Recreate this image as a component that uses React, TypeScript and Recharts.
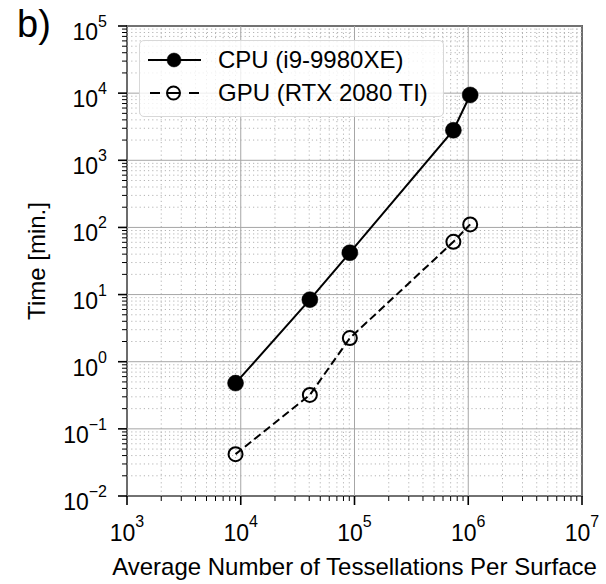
import React from 'react';
import {
  ComposedChart,
  Line,
  XAxis,
  YAxis,
  ReferenceLine,
  ReferenceArea,
  Legend,
} from 'recharts';

// ---------- data ----------
const tessellations = [9000, 40500, 91000, 740000, 1040000];
const cpuMinutes = [0.48, 8.4, 42, 2800, 9400];
const gpuMinutes = [0.042, 0.32, 2.25, 61, 111];
const seriesNames = ['CPU (i9-9980XE)', 'GPU (RTX 2080 TI)'];
const xDecades = [3, 4, 5, 6, 7];
const yDecades = [-2, -1, 0, 1, 2, 3, 4, 5];
const minorMultipliers = [2, 3, 4, 5, 6, 7, 8, 9];
const xLabel = 'Average Number of Tessellations Per Surface';
const yLabel = 'Time [min.]';
const panelLabel = 'b)';

const FONT = '"Liberation Sans", Arial, Helvetica, sans-serif';

const clean = (v: number) => Number(v.toPrecision(8));
const majors = (decs: number[]) => decs.map((e) => clean(Math.pow(10, e)));
const minors = (decs: number[]) => {
  const out: number[] = [];
  decs.slice(0, -1).forEach((e) =>
    minorMultipliers.forEach((m) => out.push(clean(m * Math.pow(10, e))))
  );
  return out;
};

const xMajor = majors(xDecades);
const yMajor = majors(yDecades);
const xMinor = minors(xDecades);
const yMinor = minors(yDecades);
const xTicks = [...xMajor, ...xMinor].sort((a, b) => a - b);
const yTicks = [...yMajor, ...yMinor].sort((a, b) => a - b);

const xDomain: [number, number] = [xMajor[0], xMajor[xMajor.length - 1]];
const yDomain: [number, number] = [yMajor[0], yMajor[yMajor.length - 1]];

const data = tessellations.map((x, i) => ({
  x,
  cpu: cpuMinutes[i],
  gpu: gpuMinutes[i],
}));

const isMajor = (v: number) => {
  const l = Math.log10(v);
  return Math.abs(l - Math.round(l)) < 1e-9;
};
const expText = (v: number) => {
  const e = Math.round(Math.log10(v));
  return e < 0 ? '\u2212' + Math.abs(e) : String(e);
};

const XTick = (props: any) => {
  const { x, y, payload } = props;
  const v = payload.value;
  const major = isMajor(v);
  return (
    <g>
      <line
        x1={x}
        x2={x}
        y1={y}
        y2={y + (major ? 9 : 5)}
        stroke="#000"
        strokeWidth={major ? 1.6 : 1}
      />
      {major && (
        <text
          x={x}
          y={y + 45}
          textAnchor="middle"
          fontFamily={FONT}
          fontSize={23}
          fill="#000"
        >
          10
          <tspan dy={-14} fontSize={16}>
            {expText(v)}
          </tspan>
        </text>
      )}
    </g>
  );
};

const YTick = (props: any) => {
  const { x, y, payload } = props;
  const v = payload.value;
  const major = isMajor(v);
  return (
    <g>
      <line
        x1={x - (major ? 9 : 5)}
        x2={x}
        y1={y}
        y2={y}
        stroke="#000"
        strokeWidth={major ? 1.6 : 1}
      />
      {major && (
        <text
          x={x - 20}
          y={y + 14}
          textAnchor="end"
          fontFamily={FONT}
          fontSize={23}
          fill="#000"
        >
          10
          <tspan dy={-13} fontSize={16}>
            {expText(v)}
          </tspan>
        </text>
      )}
    </g>
  );
};

const LegendBox = () => (
  <div
    style={{
      position: 'relative',
      width: 305,
      height: 77,
      boxSizing: 'border-box',
      border: '1.5px solid #d8d8d8',
      borderRadius: 5,
      background: 'rgba(255,255,255,0.8)',
      fontFamily: FONT,
      fontSize: 24,
      color: '#000',
    }}
  >
    <svg
      width={70}
      height={77}
      style={{ position: 'absolute', left: 0, top: 0 }}
    >
      <line x1={8} x2={61} y1={19} y2={19} stroke="#000" strokeWidth={2.2} />
      <circle cx={34} cy={19} r={7} fill="#000" stroke="#000" strokeWidth={0.5} />
      <line
        x1={10}
        x2={59}
        y1={52}
        y2={52}
        stroke="#000"
        strokeWidth={2.2}
        strokeDasharray="10 8 11 10"
      />
      <circle cx={33.5} cy={52} r={6.5} fill="none" stroke="#000" strokeWidth={2} />
    </svg>
    <div
      style={{
        position: 'absolute',
        left: 78,
        top: 19 - 14,
        lineHeight: '28px',
        whiteSpace: 'nowrap',
      }}
    >
      {seriesNames[0]}
    </div>
    <div
      style={{
        position: 'absolute',
        left: 78,
        top: 52 - 14,
        lineHeight: '28px',
        whiteSpace: 'nowrap',
      }}
    >
      {seriesNames[1]}
    </div>
  </div>
);

export default function App() {
  return (
    <div
      style={{
        position: 'absolute',
        left: 0,
        top: 0,
        width: 606,
        height: 584,
        background: '#fff',
      }}
    >
      <ComposedChart
        width={606}
        height={584}
        data={data}
        margin={{ top: 26, right: 24, bottom: 0, left: 0 }}
      >
        <XAxis
          dataKey="x"
          type="number"
          scale="log"
          domain={xDomain}
          allowDataOverflow
          ticks={xTicks}
          interval={0}
          height={88}
          tickSize={0}
          tickMargin={0}
          axisLine={false}
          tickLine={false}
          tick={<XTick />}
          label={{
            content: (p: any) => {
              const vb = p.viewBox || {};
              return (
                <text
                  x={vb.x + vb.width / 2}
                  y={575}
                  textAnchor="middle"
                  fontFamily={FONT}
                  fontSize={24}
                  fill="#000"
                >
                  {xLabel}
                </text>
              );
            },
          }}
        />
        <YAxis
          type="number"
          scale="log"
          domain={yDomain}
          allowDataOverflow
          ticks={yTicks}
          interval={0}
          width={127}
          tickSize={0}
          tickMargin={0}
          axisLine={false}
          tickLine={false}
          tick={<YTick />}
          label={{
            content: (p: any) => {
              const vb = p.viewBox || {};
              const cy = vb.y + vb.height / 2;
              return (
                <g>
                  <text
                    x={45}
                    y={cy}
                    textAnchor="middle"
                    transform={`rotate(-90, 45, ${cy})`}
                    fontFamily={FONT}
                    fontSize={24}
                    fill="#000"
                  >
                    {yLabel}
                  </text>
                  <text
                    x={17}
                    y={37}
                    fontFamily={FONT}
                    fontSize={38}
                    fill="#000"
                  >
                    {panelLabel}
                  </text>
                </g>
              );
            },
          }}
        />

        {xMinor.map((v) => (
          <ReferenceLine
            key={'xm' + v}
            x={v}
            stroke="#b4b4b4"
            strokeWidth={1}
            strokeDasharray="1.2 3"
          />
        ))}
        {yMinor.map((v) => (
          <ReferenceLine
            key={'ym' + v}
            y={v}
            stroke="#b4b4b4"
            strokeWidth={1}
            strokeDasharray="1.2 3"
          />
        ))}
        {xMajor.map((v) => (
          <ReferenceLine key={'xM' + v} x={v} stroke="#a6a6a6" strokeWidth={1} />
        ))}
        {yMajor.map((v) => (
          <ReferenceLine key={'yM' + v} y={v} stroke="#a6a6a6" strokeWidth={1} />
        ))}

        <ReferenceArea
          x1={xDomain[0]}
          x2={xDomain[1]}
          y1={yDomain[0]}
          y2={yDomain[1]}
          fill="none"
          fillOpacity={0}
          stroke="#000"
          strokeWidth={1.6}
        />

        <Line
          dataKey="cpu"
          name={seriesNames[0]}
          type="linear"
          stroke="#000"
          strokeWidth={2}
          dot={{ r: 8, fill: '#000', stroke: '#000', strokeWidth: 0.5 }}
          activeDot={false}
          isAnimationActive={false}
        />
        <Line
          dataKey="gpu"
          name={seriesNames[1]}
          type="linear"
          stroke="#000"
          strokeWidth={2}
          strokeDasharray="8 4"
          dot={{ r: 7, fill: 'none', stroke: '#000', strokeWidth: 2, strokeDasharray: '' }}
          activeDot={false}
          isAnimationActive={false}
        />

        <Legend
          layout="horizontal"
          verticalAlign="middle"
          align="center"
          content={() => <LegendBox />}
          wrapperStyle={{ left: 139, top: 40, width: 305, height: 77 }}
        />
      </ComposedChart>
    </div>
  );
}
